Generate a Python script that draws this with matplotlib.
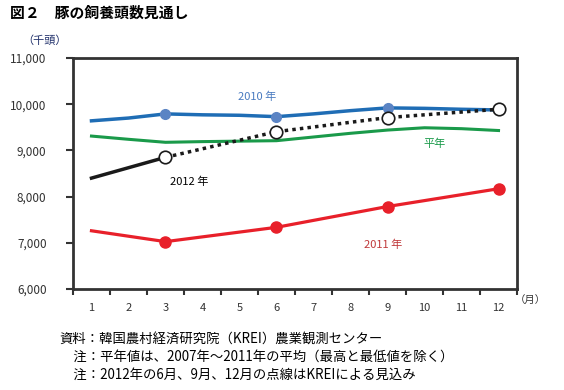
import matplotlib
matplotlib.use("Agg")
import matplotlib.pyplot as plt
import matplotlib.ticker as ticker

plt.rcParams['font.family'] = ['Noto Sans CJK JP', 'DejaVu Sans']

months = list(range(1, 13))
y2010 = [9640, 9700, 9790, 9770, 9760, 9730, 9790, 9860, 9920, 9910, 9890, 9875]
y_avg = [9310, 9240, 9175, 9190, 9200, 9210, 9290, 9370, 9440, 9490, 9470, 9430]
y2011 = [7260, None, 7025, None, None, 7335, None, None, 7785, None, None, 8170]
y2012_actual_months = [1, 3]
y2012_actual = [8400, 8850]
y2012_forecast_months = [3, 6, 9, 12]
y2012_forecast = [8850, 9405, 9710, 9890]
marker_months = [3, 6, 9]

fig = plt.figure(figsize=(5.64, 3.90), dpi=100)
ax = fig.add_axes([0.1294, 0.259, 0.7873, 0.5923])

# average year (green)
ax.plot(months, y_avg, color="#1a9a4a", lw=2.2, zorder=2)

# 2010 (blue)
ax.plot(months, y2010, color="#1f6db5", lw=2.5, zorder=3)
ax.plot(marker_months, [y2010[m - 1] for m in marker_months], "o", color="#5b84c4",
        ms=7, zorder=4)

# 2011 (red)
m11 = [m for m, v in zip(months, y2011) if v is not None]
v11 = [v for v in y2011 if v is not None]
ax.plot(m11, v11, color="#e8202a", lw=2.3, zorder=3)
ax.plot(m11[1:], v11[1:], "o", color="#e8202a", ms=8, zorder=4)

# 2012 (black)
ax.plot(y2012_actual_months, y2012_actual, color="#1a1a1a", lw=2.5, zorder=5)
ax.plot(y2012_forecast_months, y2012_forecast, color="#1a1a1a", lw=2.5,
        linestyle=(0, (1, 1.2)), zorder=5)
ax.plot(y2012_forecast_months, y2012_forecast, "o", mfc="white", mec="#1a1a1a",
        mew=1.2, ms=9, zorder=6)

# series labels
ax.text(5.47, 10156, "2010 年", color="#4a7bc0", fontsize=8, ha="center", va="center")
ax.text(3.64, 8320, "2012 年", color="black", fontsize=8, ha="center", va="center")
ax.text(10.28, 9140, "平年", color="#1a9a4a", fontsize=8, ha="center", va="center")
ax.text(8.88, 6955, "2011 年", color="#c0393b", fontsize=8, ha="center", va="center")

ax.set_xlim(0.5, 12.5)
ax.set_ylim(6000, 11000)
ax.xaxis.set_major_locator(ticker.FixedLocator([m + 0.5 for m in range(0, 13)]))
ax.xaxis.set_major_formatter(ticker.NullFormatter())
ax.xaxis.set_minor_locator(ticker.FixedLocator(months))
ax.xaxis.set_minor_formatter(ticker.FixedFormatter([str(m) for m in months]))
ax.tick_params(axis="x", which="minor", length=0, pad=10, labelsize=8, colors="#333333")
ax.tick_params(axis="x", which="major", length=4, width=1.5, color="#333333")
ax.yaxis.set_major_locator(ticker.MultipleLocator(1000))
ax.yaxis.set_major_formatter(ticker.FuncFormatter(lambda v, _: f"{int(v):,}"))
ax.tick_params(axis="y", length=5, width=1.5, color="#333333", labelsize=8.5,
               labelcolor="#333333", pad=14)
for s in ax.spines.values():
    s.set_color("#333333")
    s.set_linewidth(2)

fig.text(0.94, 0.231, "（月）", fontsize=7.5, ha="center", va="center", color="#333333")
fig.text(0.04, 0.897, "（千頭）", fontsize=8, ha="left", va="center", color="#1f2f6a")
fig.text(0.018, 0.967, "図２　豚の飼養頭数見通し", fontsize=10.7, fontweight="bold",
         ha="left", va="center")

notes = ["資料：韓国農村経済研究院（KREI）農業観測センター",
         "　注：平年値は、2007年～2011年の平均（最高と最低値を除く）",
         "　注：2012年の6月、9月、12月の点線はKREIによる見込み"]
for i, line in enumerate(notes):
    fig.text(0.106, 0.13 - i * 0.045, line, fontsize=9.6, ha="left", va="center")

fig.savefig("out.png", dpi=100)
